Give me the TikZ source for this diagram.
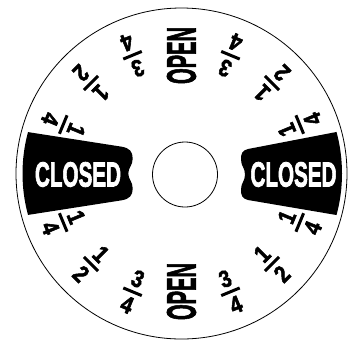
\documentclass[tikz,border=0pt]{standalone}
\usepackage{fontspec}
\setmainfont{Liberation Sans}[BoldFeatures={FakeBold=2.5}]
\usepackage{graphicx}
\usepackage{tikz}

\newcommand{\narrow}[2]{\scalebox{#1}[1]{#2}}

\begin{document}
\begin{tikzpicture}[x=1pt, y=1pt,
    word/.style={inner sep=0pt, font=\bfseries},
    numeral/.style={inner sep=0pt, transform shape, font=\bfseries\fontsize{24}{24}\selectfont},
    fracbar/.style={line width=3pt}]
  \useasboundingbox (-181.5,-167.5) rectangle (170.5,173.5);
  \draw[line width=0.8pt] (0,0) circle (165.5);
  \draw[line width=0.8pt] (3.5,-1) circle (32.5);
  % closed sectors
  \fill (164.9:159) -- (-59.8,26.8)
    .. controls (-52,25.5) and (-48.8,22) .. (-48.8,15)
    .. controls (-48.8,8) and (-53.2,6) .. (-53.2,0)
    .. controls (-53.2,-6) and (-48.8,-8) .. (-48.8,-15)
    .. controls (-48.8,-22) and (-52,-25.5) .. (-59.8,-26.8)
    -- (195.1:159) arc[start angle=195.1, end angle=164.9, radius=159] -- cycle;
  \fill (15:160.5) -- (66.5,24.5)
    .. controls (60.5,23) and (59.5,20) .. (59.5,14)
    .. controls (59.5,7) and (63.5,6) .. (63.5,-1)
    .. controls (63.5,-8) and (59.5,-9) .. (59.5,-16)
    .. controls (59.5,-22) and (60.5,-25) .. (66.5,-26.5)
    -- (-15:160.5) arc[start angle=-15, end angle=15, radius=160.5] -- cycle;
  \node[word, text=white] (closedL) at (-103.5,-1) {\narrow{0.59}{\fontsize{35}{35}\selectfont CLOSED}};
  \node[word, text=white] (closedR) at (112,-1) {\narrow{0.59}{\fontsize{35}{35}\selectfont CLOSED}};
  \node[word, rotate=90] (openT) at (0,118) {\narrow{0.49}{\fontsize{41}{41}\selectfont OPEN}};
  \node[word, rotate=90] (openB) at (0,-118) {\narrow{0.49}{\fontsize{41}{41}\selectfont OPEN}};
  % fractions, numerator toward the hub
  \foreach \a/\n/\d [count=\i] in {22.5/1/4, 45/1/2, 67.5/3/4, 112.5/3/4, 135/1/2, 157.5/1/4,
      -22.5/1/4, -45/1/2, -67.5/3/4, -112.5/3/4, -135/1/2, -157.5/1/4}
  {
    \begin{scope}[shift={(\a:128)}, rotate=\a+90]
      \node[numeral] (num\i) at (0,14) {\narrow{0.85}{\n}};
      \draw[fracbar] (-10,0) -- (10,0);
      \node[numeral] (den\i) at (0,-14) {\narrow{0.85}{\d}};
    \end{scope}
  }
\end{tikzpicture}
\end{document}
